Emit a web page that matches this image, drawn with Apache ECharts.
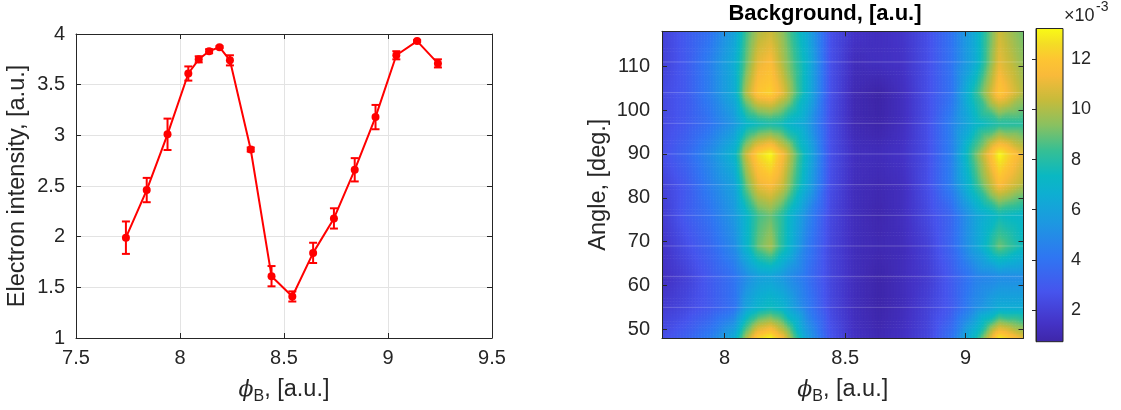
<!DOCTYPE html>
<html>
<head>
<meta charset="utf-8">
<script src="https://cdn.jsdelivr.net/npm/echarts@6/dist/echarts.min.js"></script>
<style>
  html, body { margin: 0; padding: 0; background: #fff; }
  #chart { width: 1121px; height: 410px; }
</style>
</head>
<body>
<div id="chart"></div>
<script>
// ---- left panel: electron intensity vs phi_B ----
const phiB = [7.74, 7.84, 7.94, 8.04, 8.09, 8.14, 8.19, 8.24, 8.34, 8.44, 8.54, 8.64, 8.74, 8.84, 8.94, 9.04, 9.14, 9.24];
const intensity = [1.99, 2.46, 3.01, 3.61, 3.75, 3.83, 3.87, 3.74, 2.86, 1.61, 1.41, 1.84, 2.18, 2.66, 3.18, 3.79, 3.93, 3.71];
const intensityErr = [0.16, 0.12, 0.155, 0.07, 0.03, 0.02, 0.01, 0.05, 0.02, 0.10, 0.05, 0.10, 0.10, 0.115, 0.12, 0.04, 0.01, 0.04];

// ---- right panel: background map (x10^-3), rows = angles, columns = phiB ----
const angles = [48, 55, 62, 69, 76, 83, 90, 97, 104, 111, 118];
const background = [
  [2.5, 3.3, 4.5, 6.5, 10.0, 12.5, 13.2, 11.5, 6.0, 2.8, 1.4, 1.0, 1.4, 2.2, 4.0, 7.5, 13.0, 11.0],
  [1.8, 2.3, 3.0, 4.0, 6.0, 7.0, 7.5, 7.0, 4.5, 2.3, 1.2, 0.8, 1.2, 2.0, 3.0, 5.0, 6.5, 6.5],
  [1.3, 2.0, 3.0, 4.0, 5.0, 5.8, 6.0, 5.5, 4.0, 2.2, 1.2, 0.8, 1.2, 1.8, 3.0, 4.5, 5.0, 5.0],
  [1.5, 2.5, 3.5, 5.0, 7.0, 9.0, 9.8, 8.0, 4.5, 2.2, 1.2, 1.0, 1.2, 2.0, 3.5, 6.0, 9.0, 7.5],
  [1.8, 3.0, 4.0, 5.5, 7.0, 8.5, 9.0, 8.0, 5.0, 2.3, 1.2, 0.9, 1.3, 2.3, 3.5, 6.0, 7.5, 7.0],
  [2.0, 3.0, 4.5, 6.0, 9.0, 11.0, 11.5, 10.5, 6.5, 2.5, 1.2, 1.0, 1.3, 2.5, 4.5, 8.0, 11.5, 10.0],
  [2.5, 3.5, 5.0, 7.0, 10.5, 12.5, 13.2, 11.5, 7.0, 2.6, 1.3, 1.2, 1.5, 2.5, 4.5, 9.0, 13.2, 11.0],
  [2.3, 3.0, 4.0, 5.5, 7.0, 7.5, 7.8, 7.5, 6.0, 2.5, 1.0, 0.8, 1.3, 2.5, 4.5, 7.0, 8.0, 8.0],
  [2.3, 3.0, 4.5, 6.5, 10.0, 12.0, 12.3, 11.0, 7.0, 2.6, 1.0, 0.74, 1.3, 2.5, 4.0, 8.0, 12.0, 10.0],
  [2.0, 3.0, 4.5, 6.5, 9.0, 11.0, 11.5, 10.0, 7.0, 2.6, 1.2, 1.3, 1.5, 2.5, 4.0, 6.5, 11.0, 9.5],
  [2.0, 3.0, 4.0, 6.0, 8.5, 10.0, 10.5, 9.5, 6.5, 2.6, 1.5, 1.3, 1.6, 2.5, 4.0, 6.5, 10.5, 9.0]
];
const colorRange = [0.735, 13.23];

// tick labels
const mapXTicks = [8, 8.5, 9];
const mapYTicks = [50, 60, 70, 80, 90, 100, 110];
const barTicks = [2, 4, 6, 8, 10, 12];

// parula-like colormap: [position, r, g, b]
const parulaStops = [
  [0.00, 62, 38, 168],
  [0.06, 68, 51, 198],
  [0.16, 70, 84, 237],
  [0.27, 47, 118, 242],
  [0.38, 29, 152, 225],
  [0.47, 14, 174, 210],
  [0.53, 10, 184, 194],
  [0.61, 54, 191, 148],
  [0.69, 136, 193, 97],
  [0.77, 198, 187, 59],
  [0.85, 249, 186, 58],
  [0.90, 253, 197, 50],
  [0.95, 244, 221, 37],
  [1.00, 249, 251, 21]
];

function parula(t) {
  t = Math.min(1, Math.max(0, t));
  for (let k = 1; k < parulaStops.length; k++) {
    const b = parulaStops[k];
    if (t <= b[0]) {
      const a = parulaStops[k - 1];
      const f = (t - a[0]) / (b[0] - a[0]);
      const c = [1, 2, 3].map(n => Math.round(a[n] + (b[n] - a[n]) * f));
      return 'rgb(' + c.join(',') + ')';
    }
  }
  const l = parulaStops[parulaStops.length - 1];
  return 'rgb(' + l[1] + ',' + l[2] + ',' + l[3] + ')';
}

const axisColor = '#262626';
const font = "'Liberation Sans', Arial, sans-serif";

// error bar data: [x, low, high]
const errData = phiB.map((x, i) => [x, intensity[i] - intensityErr[i], intensity[i] + intensityErr[i]]);
const lineData = phiB.map((x, i) => [x, intensity[i]]);

// map cells: each cell spans two neighbouring grid nodes in x and y
const cells = [];
for (let j = 0; j < angles.length - 1; j++) {
  for (let i = 0; i < phiB.length - 1; i++) {
    cells.push([phiB[i], angles[j], phiB[i + 1], angles[j + 1],
      background[j][i], background[j][i + 1], background[j + 1][i], background[j + 1][i + 1]]);
  }
}

function renderErr(params, api) {
  const top = api.coord([api.value(0), api.value(2)]);
  const bot = api.coord([api.value(0), api.value(1)]);
  const cap = 4;
  const st = { stroke: '#ff0000', lineWidth: 2 };
  return {
    type: 'group',
    children: [
      { type: 'line', shape: { x1: top[0], y1: top[1], x2: bot[0], y2: bot[1] }, style: st },
      { type: 'line', shape: { x1: top[0] - cap, y1: top[1], x2: top[0] + cap, y2: top[1] }, style: st },
      { type: 'line', shape: { x1: bot[0] - cap, y1: bot[1], x2: bot[0] + cap, y2: bot[1] }, style: st }
    ]
  };
}

// value inside a cell: cell split into 4 triangles through its centre, linear on each
function cellValue(u, v, v00, v10, v01, v11) {
  const c = (v00 + v10 + v01 + v11) / 4;
  const du = u - 0.5, dv = v - 0.5;
  let side, s, t;
  if (Math.abs(dv) >= Math.abs(du)) {
    side = dv < 0 ? [v00, v10] : [v01, v11];
    s = Math.abs(dv) * 2;
    t = s > 0 ? 0.5 + du / s : 0.5;
  } else {
    side = du < 0 ? [v00, v01] : [v10, v11];
    s = Math.abs(du) * 2;
    t = s > 0 ? 0.5 + dv / s : 0.5;
  }
  const edge = side[0] + (side[1] - side[0]) * t;
  return c + (edge - c) * s;
}

function renderCell(params, api) {
  const p0 = api.coord([api.value(0), api.value(1)]);
  const p1 = api.coord([api.value(2), api.value(3)]);
  const v00 = api.value(4), v10 = api.value(5), v01 = api.value(6), v11 = api.value(7);
  const w = p1[0] - p0[0], h = p0[1] - p1[1];
  const nx = Math.max(1, Math.round(w / 1.5)), ny = Math.max(1, Math.round(h / 1.5));
  const children = [];
  for (let a = 0; a < nx; a++) {
    for (let b = 0; b < ny; b++) {
      const u = (a + 0.5) / nx, v = (b + 0.5) / ny;
      const val = cellValue(u, v, v00, v10, v01, v11);
      children.push({
        type: 'rect',
        shape: { x: p0[0] + a * w / nx, y: p0[1] - (b + 1) * h / ny, width: w / nx + 0.6, height: h / ny + 0.6 },
        style: { fill: parula((val - colorRange[0]) / (colorRange[1] - colorRange[0])) }
      });
    }
  }
  return { type: 'group', children: children, silent: true };
}

function renderRowLine(params, api) {
  const a = api.coord([phiB[0], api.value(0)]);
  const b = api.coord([phiB[phiB.length - 1], api.value(0)]);
  return { type: 'line', shape: { x1: a[0], y1: a[1], x2: b[0], y2: b[1] },
    style: { stroke: 'rgba(255,255,255,0.22)', lineWidth: 1 } };
}

function renderBar(params, api) {
  const lo = api.coord([0, api.value(0)]);
  const hi = api.coord([1, api.value(1)]);
  const stops = parulaStops.map(s => ({ offset: s[0], color: 'rgb(' + s[1] + ',' + s[2] + ',' + s[3] + ')' }));
  return {
    type: 'rect',
    shape: { x: lo[0], y: hi[1], width: hi[0] - lo[0], height: lo[1] - hi[1] },
    style: {
      fill: new echarts.graphic.LinearGradient(0, 1, 0, 0, stops),
      stroke: axisColor, lineWidth: 1
    }
  };
}

const tickLabel = { color: axisColor, fontFamily: font, fontSize: 20 };
const nameStyle = { color: axisColor, fontFamily: font, fontSize: 23.5 };
const phiName = '{phi|ϕ}{sub|B}{t|, [a.u.]}';
const phiRich = {
  phi: { fontFamily: "'DejaVu Serif', serif", fontStyle: 'italic', fontSize: 22, lineHeight: 30, color: axisColor },
  sub: { fontFamily: font, fontSize: 16, lineHeight: 16, verticalAlign: 'bottom', color: axisColor },
  t: { fontFamily: font, fontSize: 23.5, lineHeight: 30, color: axisColor }
};
const lineStyleAxis = { color: axisColor, width: 1 };

const chart = echarts.init(document.getElementById('chart'));
chart.setOption({
  animation: false,
  backgroundColor: '#fff',
  grid: [
    { left: 76, top: 34, width: 416, height: 304 },
    { left: 662, top: 31.3, width: 361.5, height: 310.4 },
    { left: 1036, top: 28.5, width: 27, height: 313.2 }
  ],
  graphic: [
    { type: 'text', x: 825, y: 14, z: 100,
      style: { text: 'Background, [a.u.]', align: 'center', verticalAlign: 'middle',
        font: "bold 22px 'Liberation Sans', Arial, sans-serif", fill: '#000' } },
    { type: 'text', x: 1064, y: 16, z: 100,
      style: { text: '×10', align: 'left', verticalAlign: 'middle',
        font: "18px 'Liberation Sans', Arial, sans-serif", fill: axisColor } },
    { type: 'text', x: 1096, y: 7, z: 100,
      style: { text: '-3', align: 'left', verticalAlign: 'middle',
        font: "14px 'Liberation Sans', Arial, sans-serif", fill: axisColor } }
  ],
  xAxis: [
    { gridIndex: 0, type: 'value', min: 7.5, max: 9.5, interval: 0.5,
      name: phiName, nameLocation: 'middle', nameGap: 37, nameTextStyle: { rich: phiRich },
      axisLine: { lineStyle: lineStyleAxis }, axisTick: { inside: true, length: 5, lineStyle: lineStyleAxis },
      axisLabel: Object.assign({ margin: 10 }, tickLabel),
      splitLine: { show: true, lineStyle: { color: '#e3e3e3', width: 1 } } },
    { gridIndex: 0, type: 'value', position: 'top', min: 7.5, max: 9.5, interval: 0.5,
      axisLine: { lineStyle: lineStyleAxis }, axisTick: { inside: true, length: 5, lineStyle: lineStyleAxis },
      axisLabel: { show: false }, splitLine: { show: false } },
    { gridIndex: 1, type: 'value', min: phiB[0], max: phiB[phiB.length - 1], z: 10,
      name: phiName, nameLocation: 'middle', nameGap: 37, nameTextStyle: { rich: phiRich },
      axisLine: { lineStyle: lineStyleAxis },
      axisTick: { inside: true, length: 5, lineStyle: lineStyleAxis, customValues: mapXTicks },
      axisLabel: Object.assign({ margin: 10, customValues: mapXTicks }, tickLabel),
      splitLine: { show: false } },
    { gridIndex: 1, type: 'value', position: 'top', min: phiB[0], max: phiB[phiB.length - 1], z: 10,
      axisLine: { lineStyle: lineStyleAxis },
      axisTick: { inside: true, length: 5, lineStyle: lineStyleAxis, customValues: mapXTicks },
      axisLabel: { show: false }, splitLine: { show: false } },
    { gridIndex: 2, type: 'value', min: 0, max: 1, show: false }
  ],
  yAxis: [
    { gridIndex: 0, type: 'value', min: 1, max: 4, interval: 0.5,
      name: 'Electron intensity, [a.u.]', nameLocation: 'middle', nameGap: 46, nameTextStyle: nameStyle,
      axisLine: { show: true, lineStyle: lineStyleAxis }, axisTick: { show: true, inside: true, length: 5, lineStyle: lineStyleAxis },
      axisLabel: Object.assign({ margin: 11 }, tickLabel),
      splitLine: { show: true, lineStyle: { color: '#e3e3e3', width: 1 } } },
    { gridIndex: 0, type: 'value', position: 'right', min: 1, max: 4, interval: 0.5,
      axisLine: { show: true, lineStyle: lineStyleAxis }, axisTick: { show: true, inside: true, length: 5, lineStyle: lineStyleAxis },
      axisLabel: { show: false }, splitLine: { show: false } },
    { gridIndex: 1, type: 'value', min: angles[0], max: angles[angles.length - 1], z: 10,
      name: 'Angle, [deg.]', nameLocation: 'middle', nameGap: 51, nameTextStyle: nameStyle,
      axisLine: { show: true, lineStyle: lineStyleAxis },
      axisTick: { show: true, inside: true, length: 5, lineStyle: lineStyleAxis, customValues: mapYTicks },
      axisLabel: Object.assign({ margin: 12, customValues: mapYTicks }, tickLabel),
      splitLine: { show: false } },
    { gridIndex: 1, type: 'value', position: 'right', min: angles[0], max: angles[angles.length - 1], z: 10,
      axisLine: { show: true, lineStyle: lineStyleAxis },
      axisTick: { show: true, inside: true, length: 5, lineStyle: lineStyleAxis, customValues: mapYTicks },
      axisLabel: { show: false }, splitLine: { show: false } },
    { gridIndex: 2, type: 'value', position: 'right', min: colorRange[0], max: colorRange[1], z: 10,
      axisLine: { show: true, lineStyle: lineStyleAxis },
      axisTick: { show: true, inside: true, length: 4, lineStyle: lineStyleAxis, customValues: barTicks },
      axisLabel: { margin: 8, color: axisColor, fontFamily: font, fontSize: 18, customValues: barTicks },
      splitLine: { show: false } }
  ],
  series: [
    { type: 'custom', xAxisIndex: 0, yAxisIndex: 0, renderItem: renderErr, data: errData, z: 3,
      encode: { x: 0, y: [1, 2] } },
    { type: 'line', xAxisIndex: 0, yAxisIndex: 0, data: lineData, z: 4,
      symbol: 'circle', symbolSize: 8, itemStyle: { color: '#ff0000' },
      lineStyle: { color: '#ff0000', width: 2 } },
    { type: 'custom', xAxisIndex: 2, yAxisIndex: 2, renderItem: renderCell, data: cells, clip: true,
      encode: { x: [0, 2], y: [1, 3] }, silent: true },
    { type: 'custom', xAxisIndex: 2, yAxisIndex: 2, renderItem: renderRowLine, clip: true,
      data: angles.slice(1, -1).map(a => [a]), encode: { y: 0 }, silent: true, z: 3 },
    { type: 'custom', xAxisIndex: 4, yAxisIndex: 4, renderItem: renderBar,
      data: [[colorRange[0], colorRange[1]]], encode: { y: [0, 1] }, silent: true }
  ]
});
</script>
</body>
</html>
